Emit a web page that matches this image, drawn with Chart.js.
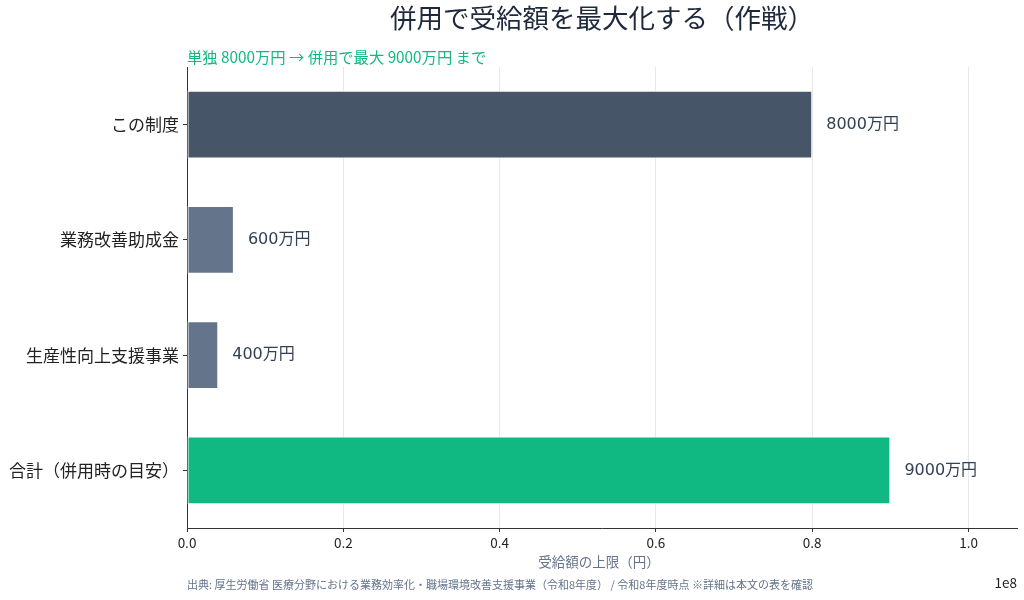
<!DOCTYPE html>
<html lang="ja">
<head>
<meta charset="utf-8">
<script src="https://cdn.jsdelivr.net/npm/chart.js@4.4.1/dist/chart.umd.min.js"></script>
<style>
  html, body { margin: 0; padding: 0; background: #fff; }
  #wrap { width: 1024px; height: 600px; position: relative; }
</style>
</head>
<body>
<div id="wrap"><canvas id="c" width="1024" height="600"></canvas></div>
<script>
// data
const categories = ['この制度', '業務改善助成金', '生産性向上支援事業', '合計（併用時の目安）'];
const amounts = [80000000, 6000000, 4000000, 90000000];
const valueLabels = ['8000万円', '600万円', '400万円', '9000万円'];
const barColors = ['#475569', '#64748b', '#64748b', '#10b981'];
const xTicks = [0, 20000000, 40000000, 60000000, 80000000, 100000000];
const xMax = 106200000;

const FONT = '"Noto Sans CJK JP", "Noto Sans", sans-serif';
const NUMFONT = '"DejaVu Sans", "Noto Sans CJK JP", sans-serif';

const titleText = '併用で受給額を最大化する（作戦）';
const subtitleText = '単独 8000万円 → 併用で最大 9000万円 まで';
const xTitle = '受給額の上限（円）';
const footerText = '出典: 厚生労働省 医療分野における業務効率化・職場環境改善支援事業（令和8年度） / 令和8年度時点 ※詳細は本文の表を確認';

// extra text: title, subtitle, value labels, axis title, offset, footer
const decorations = {
    id: 'decorations',
    afterDraw(chart) {
        const ctx = chart.ctx;
        const area = chart.chartArea;
        ctx.save();

        ctx.fillStyle = '#1e293b';
        ctx.font = '26.5px ' + FONT;
        ctx.textAlign = 'left';
        ctx.textBaseline = 'middle';
        ctx.fillText(titleText, 390, 18);

        ctx.fillStyle = '#10b981';
        ctx.font = '15.3px ' + FONT;
        ctx.fillText(subtitleText, area.left, 57);

        // value labels right of each bar
        const meta = chart.getDatasetMeta(0);
        ctx.fillStyle = '#334155';
        ctx.font = '16px ' + NUMFONT;
        meta.data.forEach((bar, i) => {
            ctx.fillText(valueLabels[i], bar.x + 14, bar.y);
        });

        ctx.fillStyle = '#64748b';
        ctx.font = '13.5px ' + FONT;
        ctx.textAlign = 'center';
        ctx.fillText(xTitle, 599, 562);

        ctx.fillStyle = '#222';
        ctx.font = '13.5px ' + FONT;
        ctx.textAlign = 'right';
        ctx.fillText('1e8', area.right, 583);

        ctx.fillStyle = '#64748b';
        ctx.font = '11px ' + FONT;
        ctx.textAlign = 'left';
        ctx.fillText(footerText, area.left, 585);

        ctx.restore();
    }
};

new Chart(document.getElementById('c'), {
    type: 'bar',
    data: {
        labels: categories,
        datasets: [{
            data: amounts,
            backgroundColor: barColors,
            borderColor: '#ffffff',
            borderWidth: 1,
            borderSkipped: false,
            categoryPercentage: 1,
            barPercentage: 0.59
        }]
    },
    options: {
        indexAxis: 'y',
        responsive: false,
        animation: false,
        devicePixelRatio: 1,
        layout: { padding: { top: 67, right: 7, bottom: 0, left: 0 } },
        plugins: {
            legend: { display: false },
            tooltip: { enabled: false }
        },
        scales: {
            x: {
                type: 'linear',
                min: 0,
                max: xMax,
                afterBuildTicks: s => { s.ticks = xTicks.map(v => ({ value: v })); },
                afterFit: s => { s.height = 72; },
                border: { display: true, color: '#333', width: 1 },
                grid: { color: '#e8e8e8', tickColor: '#333', tickLength: 4, drawTicks: true },
                ticks: {
                    maxRotation: 0,
                    color: '#222',
                    padding: 3,
                    font: { family: FONT, size: 13.5 },
                    callback: v => (v / 1e8).toFixed(1)
                }
            },
            y: {
                type: 'category',
                offset: true,
                afterFit: s => { s.width = 187; },
                border: { display: true, color: '#333', width: 1 },
                grid: { offset: false, drawOnChartArea: false, tickColor: '#333', tickLength: 4 },
                ticks: {
                    color: '#222',
                    padding: 4,
                    font: { family: FONT, size: 17 }
                }
            }
        }
    },
    plugins: [decorations]
});
</script>
</body>
</html>
